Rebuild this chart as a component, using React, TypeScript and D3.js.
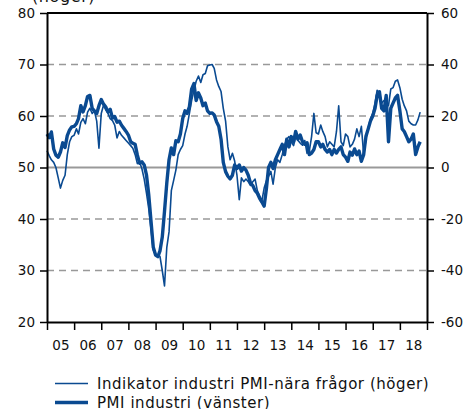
import React, { useEffect, useRef } from 'react';
import * as d3 from 'd3';

// monthly values, Jan 2005 - Oct 2018
const pmiIndustri = [
  // 2005
  56.5, 55.8, 56.9, 53.6, 52.4, 52.0, 53.0, 54.8, 53.9, 56.2, 57.3, 57.9,
  // 2006
  58.0, 58.5, 59.5, 62.0, 60.8, 62.0, 63.8, 64.0, 61.5, 61.0, 60.5, 62.0,
  // 2007
  63.2, 62.3, 61.8, 60.8, 61.3, 59.6, 59.9, 58.8, 59.0, 58.2, 57.6, 57.0,
  // 2008
  56.3, 55.0, 54.7, 54.5, 52.4, 50.8, 51.1, 50.5, 48.5, 44.7, 39.5, 34.5,
  // 2009
  33.0, 32.7, 33.8, 36.5, 41.5, 47.0, 51.5, 53.8, 52.5, 55.2, 55.0, 56.5,
  // 2010
  59.5, 61.0, 60.5, 61.8, 65.2, 66.3, 63.0, 64.5, 63.5, 62.0, 62.5, 61.0,
  // 2011
  60.5, 60.6, 60.2, 58.9, 58.0, 55.5, 51.0, 49.2, 48.3, 47.8, 48.5, 50.5,
  // 2012
  49.8, 50.5, 49.3, 50.0, 49.5, 48.5, 47.0, 46.5, 45.5, 45.0, 44.0, 43.3,
  // 2013
  42.5, 46.0, 50.0, 51.0, 49.8, 51.5, 52.5, 53.5, 54.5, 52.5, 55.5, 54.0,
  // 2014
  56.0, 55.0, 57.0, 55.5, 56.3, 55.0, 54.5, 54.8, 52.5, 52.8, 53.5, 55.0,
  // 2015
  55.0, 54.0, 54.5, 53.5, 53.0, 53.5, 52.5, 53.5, 52.8, 53.5, 54.0, 52.5,
  // 2016
  52.0, 51.2, 53.0, 52.4, 53.6, 52.5, 53.2, 51.2, 52.5, 56.0, 57.5, 59.0,
  // 2017
  60.0, 61.5, 64.0, 64.7, 61.5, 61.0, 64.0, 55.0, 61.5, 62.5, 63.5, 64.0,
  // 2018
  61.0, 57.5, 57.0, 56.0, 55.0, 55.5, 56.5, 52.5, 54.0, 55.0,
];

const indikator = [
  // 2005
  6.5, 4.5, 3.0, 2.0, 0.0, -4.0, -8.0, -5.0, -3.0, 5.0, 10.0, 12.0,
  // 2006
  12.5, 15.0, 13.0, 17.5, 19.0, 17.0, 21.5, 23.0, 21.0, 22.0, 18.0, 7.5,
  // 2007
  21.0, 24.3, 22.5, 21.0, 19.0, 18.2, 16.5, 11.5, 14.0, 12.5, 11.5, 10.5,
  // 2008
  9.5, 8.5, 7.5, 5.0, 1.5, 2.0, -0.5, -4.5, -10.0, -16.0, -24.0, -32.0,
  // 2009
  -34.0, -34.0, -34.5, -40.0, -46.0, -31.0, -25.0, -9.0, -5.0, -1.0, 5.0, 7.0,
  // 2010
  8.5, 13.0, 16.0, 21.0, 26.0, 30.0, 33.5, 35.5, 33.0, 36.0, 36.5, 39.5,
  // 2011
  39.8, 40.0, 38.5, 34.0, 31.5, 29.5, 23.0, 18.0, 8.0, 3.0, 5.5, 2.5,
  // 2012
  -3.0, -12.5, -4.0, -5.5, -4.5, -5.5, -7.0, -5.5, -4.5, -9.0, -11.0, -13.0,
  // 2013
  -8.0, -5.0, -3.5, -1.5, -6.5, 0.0, 3.0, 2.0, 5.0, 8.5, 11.0, 12.0,
  // 2014
  10.0, 8.5, 12.0, 10.5, 9.5, 8.7, 10.5, 5.5, 6.5, 12.0, 21.0, 13.5,
  // 2015
  13.0, 16.5, 14.0, 12.0, 8.0, 10.0, 9.0, 8.0, 14.0, 24.0, 10.0, 8.5,
  // 2016
  13.0, 12.0, 8.0, 9.0, 11.0, 15.0, 12.0, 16.0, 5.0, 11.0, 15.5, 19.0,
  // 2017
  21.0, 25.0, 30.0, 29.0, 25.0, 26.0, 25.5, 24.0, 30.5, 31.0, 33.5, 34.0,
  // 2018
  31.0, 26.5, 24.0, 22.0, 18.0, 17.0, 16.5, 16.5, 18.5, 21.5,
];

const leftTicks = [20, 30, 40, 50, 60, 70, 80];
const rightTicks = [-60, -40, -20, 0, 20, 40, 60];
const years = d3.range(2005, 2019);

const legendLabels = [
  'Indikator industri PMI-nära frågor (höger)',
  'PMI industri (vänster)',
];

const blue = '#0a4a91';
const font = '"DejaVu Sans", Verdana, sans-serif';

export default function App() {
  const ref = useRef<SVGSVGElement>(null);

  useEffect(() => {
    const svg = d3.select(ref.current);
    svg.selectAll('*').remove();

    const left = 47, right = 427, top = 13, bottom = 322;

    const x = d3.scaleTime()
      .domain([new Date(2005, 0, 1), new Date(2019, 0, 1)])
      .range([left, right]);
    const yL = d3.scaleLinear().domain([20, 80]).range([bottom, top]);
    const yR = d3.scaleLinear().domain([-60, 60]).range([bottom, top]);

    // grid
    svg.append('g')
      .selectAll('line')
      .data(leftTicks.filter(v => v > 20 && v < 80))
      .enter().append('line')
      .attr('x1', left).attr('x2', right)
      .attr('y1', d => yL(d)).attr('y2', d => yL(d))
      .attr('stroke', '#999')
      .attr('stroke-width', d => d === 50 ? 2 : 1.6)
      .attr('stroke-dasharray', d => d === 50 ? null : '7,5');

    // lines
    const pmiLine = d3.line<number>()
      .x((d, i) => x(new Date(2005, i, 1)))
      .y(d => yL(d));
    const indLine = d3.line<number>()
      .x((d, i) => x(new Date(2005, i, 1)))
      .y(d => yR(d));

    svg.append('path')
      .attr('d', pmiLine(pmiIndustri))
      .attr('fill', 'none')
      .attr('stroke', blue)
      .attr('stroke-width', 3.4)
      .attr('stroke-linejoin', 'round');

    svg.append('path')
      .attr('d', indLine(indikator))
      .attr('fill', 'none')
      .attr('stroke', blue)
      .attr('stroke-width', 1.6)
      .attr('stroke-linejoin', 'round');

    // frame
    svg.append('line')
      .attr('x1', left).attr('x2', right).attr('y1', top).attr('y2', top)
      .attr('stroke', '#000').attr('stroke-width', 2);

    const styleAxis = (g: any) => {
      g.select('.domain').attr('stroke', '#000').attr('stroke-width', 2);
      g.selectAll('.tick line').attr('stroke', '#000').attr('stroke-width', 1.5);
      g.selectAll('text')
        .attr('font-family', font)
        .attr('font-size', 13.5)
        .attr('fill', '#111');
    };

    const plain = (d: any) => String(d);

    svg.append('g')
      .attr('transform', `translate(${left},0)`)
      .call(d3.axisLeft(yL).tickValues(leftTicks).tickFormat(plain)
        .tickSize(7).tickSizeOuter(0).tickPadding(5))
      .call(styleAxis);

    svg.append('g')
      .attr('transform', `translate(${right},0)`)
      .call(d3.axisRight(yR).tickValues(rightTicks).tickFormat(plain)
        .tickSize(7).tickSizeOuter(0).tickPadding(7))
      .call(styleAxis);

    svg.append('g')
      .attr('transform', `translate(0,${bottom})`)
      .call(d3.axisBottom(x)
        .tickValues(years.concat([2019]).map(y => new Date(y, 0, 1)))
        .tickSize(8).tickSizeOuter(0).tickFormat(() => ''))
      .call(styleAxis);

    const lab = svg.append('g')
      .attr('transform', `translate(0,${bottom})`)
      .call(d3.axisBottom(x)
        .tickValues(years.map(y => new Date(y, 6, 1)))
        .tickSize(0).tickPadding(18)
        .tickFormat(d3.timeFormat('%y') as any))
      .call(styleAxis);
    lab.select('.domain').remove();

    // cut-off axis title
    svg.append('text')
      .attr('x', 32).attr('y', 1.5)
      .attr('font-family', font)
      .attr('font-size', 16)
      .attr('letter-spacing', 0.6)
      .attr('fill', '#111')
      .text('(höger)');

    // legend
    const lg = svg.append('g');
    legendLabels.forEach((t, i) => {
      const ly = 383.5 + i * 19;
      lg.append('line')
        .attr('x1', 55).attr('x2', 88).attr('y1', ly).attr('y2', ly)
        .attr('stroke', blue)
        .attr('stroke-width', i === 0 ? 1.6 : 3.6);
      lg.append('text')
        .attr('x', 97).attr('y', ly + 5.5)
        .attr('font-family', font)
        .attr('font-size', 15)
        .attr('letter-spacing', 0.55)
        .attr('fill', '#111')
        .text(t);
    });
  }, []);

  return (
    <svg ref={ref} width={467} height={409}
      style={{ position: 'absolute', left: 0, top: 0, background: '#fff' }} />
  );
}
